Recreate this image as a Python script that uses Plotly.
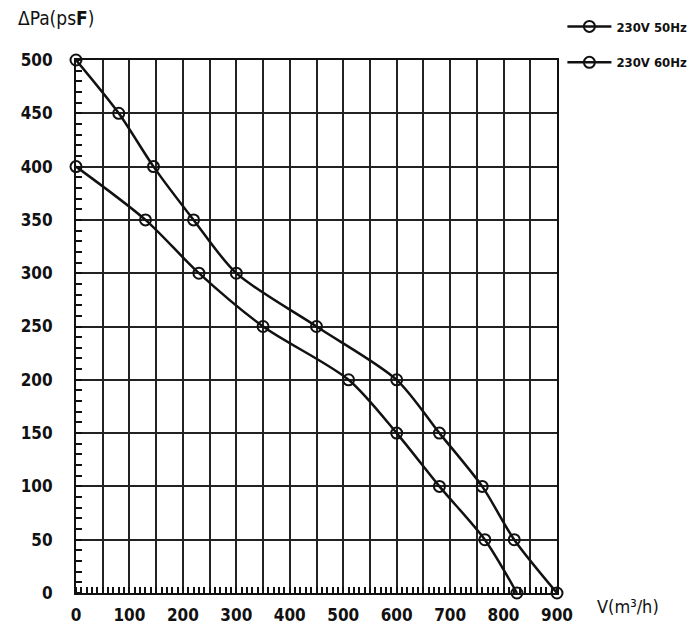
import plotly.graph_objects as go

# fan curves: airflow V (m3/h) vs static pressure (Pa)
flow_60hz = [0, 80, 145, 220, 300, 450, 600, 680, 760, 820, 900]
pressure_60hz = [500, 450, 400, 350, 300, 250, 200, 150, 100, 50, 0]

flow_50hz = [0, 130, 230, 350, 510, 600, 680, 765, 825]
pressure_50hz = [400, 350, 300, 250, 200, 150, 100, 50, 0]

x_tickvals = list(range(0, 901, 50))
x_ticktext = [str(v) if v % 100 == 0 else "" for v in x_tickvals]
y_tickvals = list(range(0, 501, 50))

FONT = "DejaVu Sans Condensed"
INK = "#111111"

fig = go.Figure()

for name, xs, ys, group in [
    ("230V 50Hz", flow_50hz, pressure_50hz, "a"),
    ("230V 60Hz", flow_60hz, pressure_60hz, "b"),
]:
    fig.add_trace(
        go.Scatter(
            x=xs,
            y=ys,
            name=name,
            legendgroup=group,
            mode="lines+markers",
            line=dict(color=INK, width=2.5, shape="spline", smoothing=0.8),
            marker=dict(symbol="circle-open", size=11, color=INK, line=dict(width=2)),
            cliponaxis=False,
        )
    )

axis_common = dict(
    showgrid=True,
    gridcolor="#222222",
    gridwidth=1.5,
    showline=True,
    linecolor=INK,
    linewidth=2,
    mirror=True,
    ticks="",
    zeroline=False,
    automargin=False,
    tickfont=dict(family=FONT, size=17, color=INK, weight="bold"),
)

fig.update_xaxes(
    range=[0, 900],
    tickmode="array",
    tickvals=x_tickvals,
    ticktext=x_ticktext,
    ticklabelstandoff=6,
    minor=dict(dtick=10, ticks="inside", ticklen=6, tickcolor=INK, tickwidth=1.5, showgrid=False),
    **axis_common,
)
fig.update_yaxes(
    range=[0, 500],
    tickmode="array",
    tickvals=y_tickvals,
    ticklabelstandoff=18,
    minor=dict(dtick=10, ticks="inside", ticklen=6, tickcolor=INK, tickwidth=1.5, showgrid=False),
    **axis_common,
)

fig.add_annotation(
    text="ΔPa(ps<b>F</b>)",
    xref="paper", yref="paper",
    x=-0.125, y=1.079,
    xanchor="left", yanchor="middle",
    showarrow=False,
    font=dict(family=FONT, size=19, color=INK),
)
fig.add_annotation(
    text="V(m³/h)",
    xref="paper", yref="paper",
    x=1.079, y=-0.026,
    xanchor="left", yanchor="middle",
    showarrow=False,
    font=dict(family=FONT, size=18, color=INK),
)

fig.update_layout(
    width=700,
    height=634,
    margin=dict(l=68, r=151, t=52, b=49, autoexpand=False),
    paper_bgcolor="white",
    plot_bgcolor="white",
    showlegend=True,
    legend=dict(
        xref="container", yref="container",
        x=0.792, y=0.9945,
        xanchor="left", yanchor="top",
        font=dict(family=FONT, size=13, color=INK, weight="bold"),
        itemwidth=44,
        tracegroupgap=16,
        traceorder="grouped",
        bgcolor="rgba(0,0,0,0)",
    ),
)

fig.write_html("out.html")
